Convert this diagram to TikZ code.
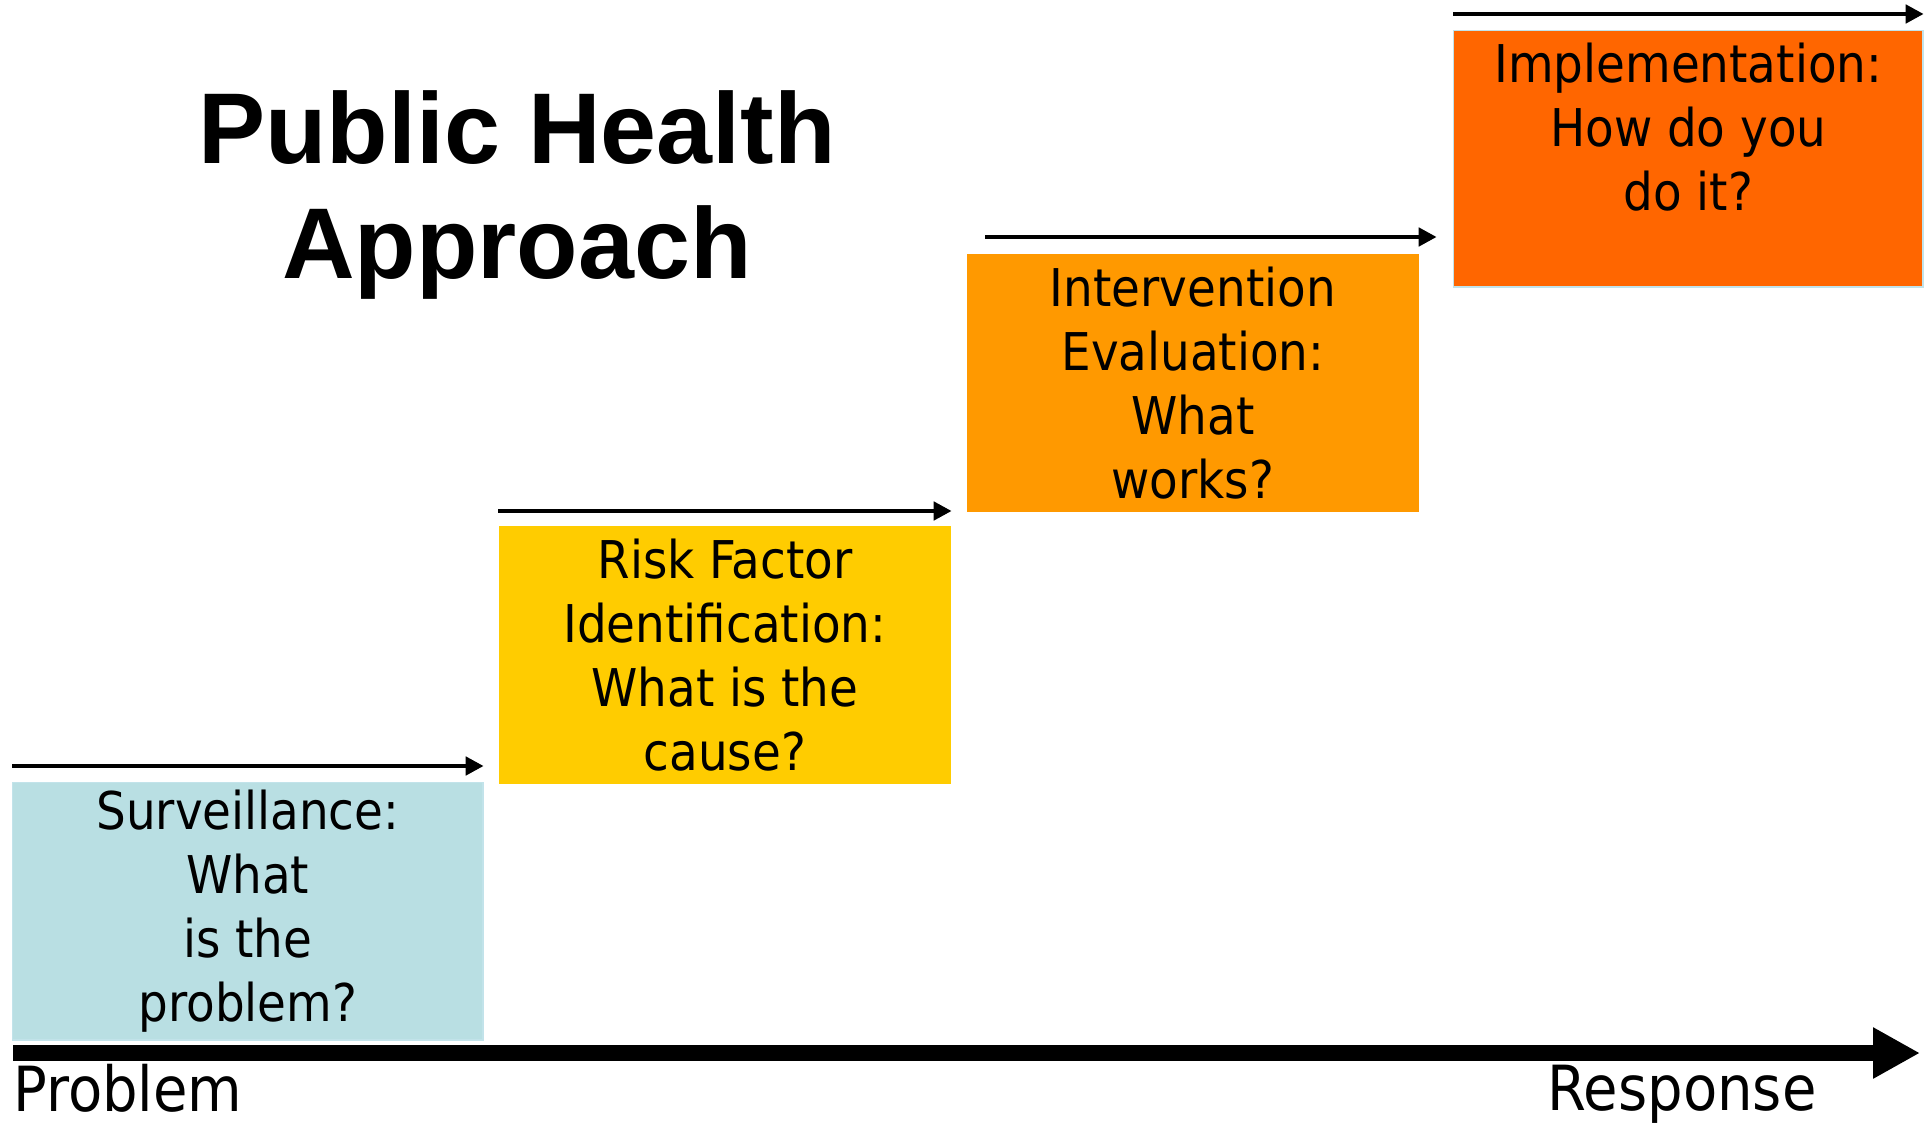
\documentclass[tikz,border=0pt]{standalone}
\usepackage{fontspec}
\setmainfont{DejaVu Sans Condensed}
\newfontfamily\titolofont{Liberation Sans}
\usetikzlibrary{arrows.meta, positioning}
\definecolor{azzurro}{HTML}{B9DFE3}
\definecolor{giallo}{HTML}{FFCC00}
\definecolor{arancio}{HTML}{FF9900}
\definecolor{rosso}{HTML}{FF6600}
\definecolor{bordo}{HTML}{C2E3EA}

\begin{document}
\begin{tikzpicture}[x=0.01cm, y=-0.01cm,
    gradino/.style={anchor=north west, inner sep=0pt, align=center, font=\fontsize{14.8}{18.2}\selectfont},
    freccia/.style={line width=1.4pt, -{Triangle[length=0.18cm, width=0.18cm]}},
    titolo/.style={anchor=base, inner sep=0pt, font=\titolofont\bfseries\fontsize{28.6}{33}\selectfont},
    estremo/.style={anchor=base west, inner sep=0pt, font=\fontsize{17.7}{21}\selectfont}]
    % Cornice
    \useasboundingbox (0,0) rectangle (1928,1127);
    % Titolo
    \node[titolo] (titolo1) at (517,163) {Public Health};
    \node[titolo] (titolo2) at (517,278) {Approach};
    % Gradini
    \node[gradino, fill=azzurro, draw=bordo, minimum width=4.7cm, minimum height=2.57cm] (surv) at (12,782) {Surveillance:\\What\\is the\\problem?};
    \node[gradino, fill=giallo, minimum width=4.52cm, minimum height=2.58cm] (risk) at (498,525) {Risk Factor\\Identification:\\What is the\\cause?};
    \node[gradino, fill=arancio, minimum width=4.52cm, minimum height=2.58cm] (interv) at (966,253) {Intervention\\Evaluation:\\What\\works?};
    \node[gradino, fill=rosso, draw=bordo, minimum width=4.69cm, minimum height=2.56cm] (impl) at (1453,30) {Implementation:\\How do you\\do it?\\~};
    % Frecce sopra i gradini
    \draw[freccia] ([yshift=0.16cm]surv.north west) -- ([yshift=0.16cm]surv.north east);
    \draw[freccia] ([yshift=0.14cm]risk.north west) -- ([yshift=0.14cm]risk.north east);
    \draw[freccia] ([xshift=0.19cm, yshift=0.16cm]interv.north west) -- ([xshift=0.17cm, yshift=0.16cm]interv.north east);
    \draw[freccia] ([yshift=0.16cm]impl.north west) -- ([yshift=0.16cm]impl.north east);
    % Asse
    \coordinate (inizio) at (13,1053);
    \coordinate (fine) at (1920,1053);
    \draw[line width=0.16cm, -{Triangle[length=0.47cm, width=0.48cm]}] (inizio) -- (fine);
    \node[estremo] (problema) at (13,1111) {Problem};
    \node[estremo] (risposta) at (1547,1110) {Response};
\end{tikzpicture}
\end{document}
